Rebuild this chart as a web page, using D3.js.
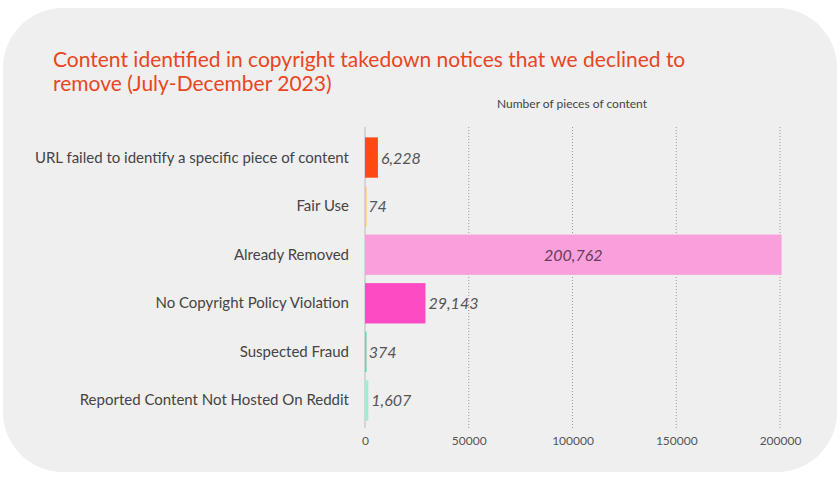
<!DOCTYPE html><html><head><meta charset="utf-8"><script src="https://cdn.jsdelivr.net/npm/d3@7"></script>
<style>body{margin:0;background:#fff;font-family:Lato,"Noto Sans",sans-serif}</style></head><body><svg id="c" width="840" height="479"></svg><script>
const categories=["URL failed to identify a specific piece of content","Fair Use","Already Removed","No Copyright Policy Violation","Suspected Fraud","Reported Content Not Hosted On Reddit"];
const values=[6228,74,200762,29143,374,1607];
const colors=["#fc4a12","#f4cc56","#f9a0dc","#fc4bc3","#5fd6a8","#a6ead1"];
const ticks=[0,50000,100000,150000,200000];
const svg=d3.select("#c");
svg.append("rect").attr("x",3).attr("y",8).attr("width",834).attr("height",464).attr("rx",60).attr("fill","#efefef");
const t=svg.append("text").attr("fill","#e8461e").attr("font-size",21).attr("font-family","Lato");
t.append("tspan").attr("x",53).attr("y",67).text("Content identified in copyright takedown notices that we declined to");
t.append("tspan").attr("x",53).attr("y",91).text("remove (July-December 2023)");
const x=d3.scaleLinear().domain([0,200000]).range([365,780]);
const y=d3.scaleBand().domain(categories).range([133,425]).paddingInner(0.17).paddingOuter(0.09);
svg.append("text").attr("x",572).attr("y",108).attr("text-anchor","middle").attr("font-size",12).attr("fill","#444").text("Number of pieces of content");
svg.selectAll(".g").data(ticks.slice(1)).enter().append("line").attr("x1",d=>x(d)).attr("x2",d=>x(d)).attr("y1",127).attr("y2",428).attr("stroke","#999").attr("stroke-dasharray","1,2");
svg.append("line").attr("x1",x(0)).attr("x2",x(0)).attr("y1",127).attr("y2",428).attr("stroke","#bbb");
const ax=svg.append("g").attr("transform","translate(0,428)").call(d3.axisBottom(x).tickValues(ticks).tickFormat(d3.format("d")).tickSize(0).tickPadding(8));
ax.select(".domain").remove();ax.selectAll("text").attr("font-size",12).attr("fill","#555").attr("font-family","Lato");
svg.selectAll(".b").data(values).enter().append("rect").attr("x",x(0)).attr("y",(d,i)=>y(categories[i])).attr("width",d=>Math.max(1.5,x(d)-x(0))).attr("height",y.bandwidth()).attr("fill",(d,i)=>colors[i]);
svg.selectAll(".c").data(categories).enter().append("text").attr("x",349).attr("y",d=>y(d)+y.bandwidth()/2+5).attr("text-anchor","end").attr("font-size",15).attr("fill","#444").text(d=>d);
const f=d3.format(",");
svg.selectAll(".v").data(values).enter().append("text").attr("x",d=>d>150000?(x(0)+x(d))/2:x(d)+3).attr("text-anchor",d=>d>150000?"middle":"start").attr("y",(d,i)=>y(categories[i])+y.bandwidth()/2+6).attr("font-size",16).attr("font-style","italic").attr("fill",d=>d>150000?"#6a3a5a":"#555").text(d=>f(d));
</script></body></html>
